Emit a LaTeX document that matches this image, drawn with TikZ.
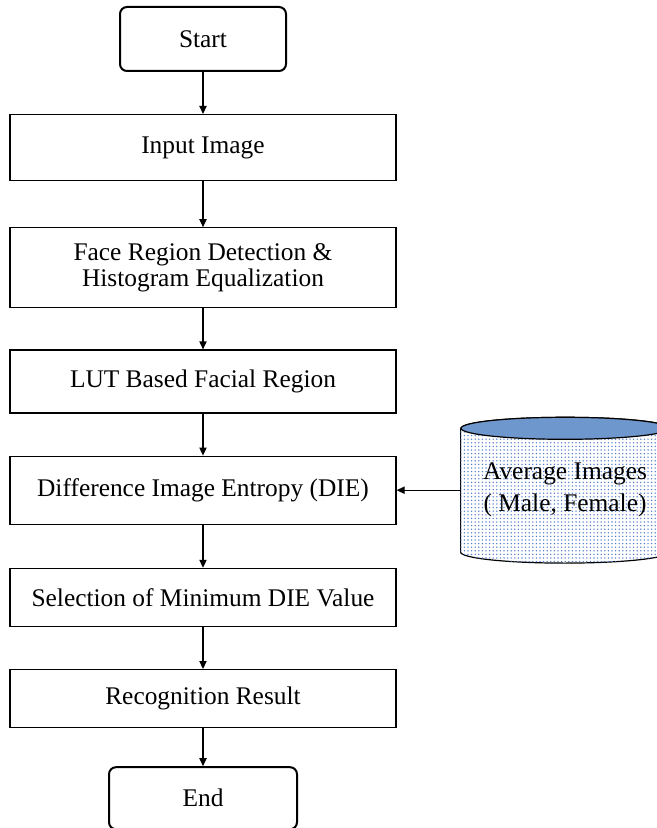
\documentclass[tikz,border=0pt]{standalone}
\usepackage{fontspec}
\setmainfont{Liberation Serif}
\usetikzlibrary{arrows.meta,positioning,patterns.meta,backgrounds}
\definecolor{CylBlue}{RGB}{110,152,205}
\definecolor{DotBlue}{RGB}{80,125,205}
\tikzdeclarepattern{
  name=finedots,
  type=uncolored,
  bounding box={(-.9pt,-.9pt) and (.9pt,.9pt)},
  tile size={(1.8pt,1.8pt)},
  code={\fill (0pt,0pt) circle (0.38pt);}
}
\tikzset{
  termbox/.style={draw=black,line width=1pt,rounded corners=3.5pt,fill=white,
    minimum height=32pt,align=center,font=\fontsize{12.7}{11.5}\selectfont},
  stepbox/.style={draw=black,line width=0.6pt,fill=white,
    minimum width=193pt,align=center,font=\fontsize{12.7}{11.5}\selectfont},
  flowarrow/.style={-{Triangle[length=4pt,width=3.6pt]},line width=0.6pt,draw=black},
}

\begin{document}
\begin{tikzpicture}[node distance=21pt]
  \useasboundingbox (-101.5pt,19.5pt) rectangle (227pt,-394.5pt);
  \clip (-101.5pt,19.5pt) rectangle (227pt,-394.5pt);
  \node[termbox,minimum width=83pt] (start) at (0,0) {Start};
  \node[stepbox,below=of start,minimum height=33pt] (input) {Input Image};
  \node[stepbox,below=23pt of input,minimum height=40pt] (face)
    {Face Region Detection \&\\Histogram Equalization};
  \node[stepbox,below=20.5pt of face,minimum height=31.5pt] (lut) {LUT Based Facial Region};
  \node[stepbox,below=of lut,minimum height=34pt] (die) {Difference Image Entropy (DIE)};
  \node[stepbox,below=21.5pt of die,minimum height=29pt] (select) {Selection of Minimum DIE Value};
  \node[stepbox,below=of select,minimum height=29pt] (result) {Recognition Result};
  \node[termbox,below=19pt of result,minimum width=94pt,minimum height=31pt] (end) {End};
  % database of average faces
  \node[right=32pt of die,minimum width=104pt,minimum height=61.5pt,align=center,
    font=\fontsize{12.7}{16}\selectfont] (avg) {Average Images\\( Male, Female)};
  \begin{scope}[on background layer]
    \draw[line width=0.6pt,fill=white,postaction={pattern=finedots,pattern color=DotBlue}]
      (avg.north west) -- (avg.south west)
      arc[start angle=180,end angle=360,x radius=52pt,y radius=5.5pt]
      -- (avg.north east)
      arc[start angle=0,end angle=180,x radius=52pt,y radius=5.5pt] -- cycle;
    \draw[line width=0.6pt,fill=CylBlue] (avg.north) ellipse[x radius=52pt,y radius=5.5pt];
  \end{scope}
  \draw[flowarrow] (start) -- (input);
  \draw[flowarrow] (input) -- (face);
  \draw[flowarrow] (face) -- (lut);
  \draw[flowarrow] (lut) -- (die);
  \draw[flowarrow] (die) -- (select);
  \draw[flowarrow] (select) -- (result);
  \draw[flowarrow] (result) -- (end);
  \draw[flowarrow] (avg.west) -- (die.east);
\end{tikzpicture}
\end{document}
